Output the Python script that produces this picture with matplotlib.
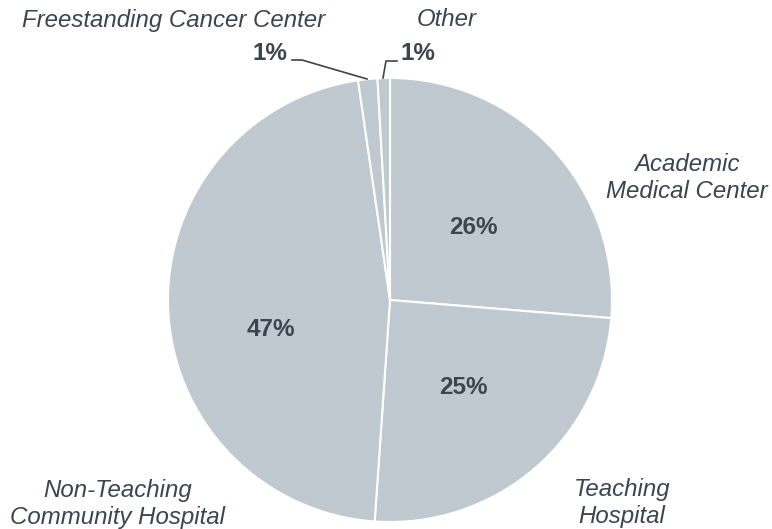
import matplotlib.pyplot as plt

categories = ['Academic\nMedical Center', 'Teaching\nHospital',
              'Non-Teaching\nCommunity Hospital', 'Freestanding Cancer Center', 'Other']
shares = [26.3, 24.8, 46.6, 1.4, 0.9]

W, H = 772, 529
PIE_COLOR = '#bfc9cf'
TEXT_COLOR = '#3b4550'

plt.rcParams['font.family'] = ['Liberation Sans', 'DejaVu Sans']


def py(y):
    """Перевод координаты из пикселей (сверху) в координаты осей."""
    return H - y


fig = plt.figure(figsize=(W / 100, H / 100), dpi=100)
ax = fig.add_axes([0, 0, 1, 1])
ax.set_xlim(0, W)
ax.set_ylim(0, H)
ax.set_aspect('equal')
ax.axis('off')

ax.pie(shares, colors=[PIE_COLOR] * len(shares), startangle=90, counterclock=False,
       center=(390, py(300)), radius=222,
       wedgeprops=dict(edgecolor='white', linewidth=1.5))
ax.set_xlim(0, W)
ax.set_ylim(0, H)

# подписи процентов
pct_pos = [(473, 228), (463, 388), (271, 330), (270, 53), (418, 53)]
for (x, y), v in zip(pct_pos, shares):
    ax.text(x, py(y), f'{round(v)}%', ha='center', va='center', fontsize=17.5,
            fontweight='bold', color=TEXT_COLOR)

# подписи категорий
lab_pos = [(687, 178), (622, 503), (118, 504), (174, 20), (447, 20)]
for (x, y), lab in zip(lab_pos, categories):
    ax.text(x, py(y), lab, ha='center', va='center', fontsize=17.3,
            style='italic', color=TEXT_COLOR, linespacing=1.26)

# выноски для маленьких секторов
ax.plot([292, 302, 367], [py(60), py(60), py(79)], color=TEXT_COLOR, lw=1.2)
ax.plot([397, 386, 383], [py(61), py(61), py(78)], color=TEXT_COLOR, lw=1.2)

plt.savefig('out.png', dpi=100)
plt.close()
